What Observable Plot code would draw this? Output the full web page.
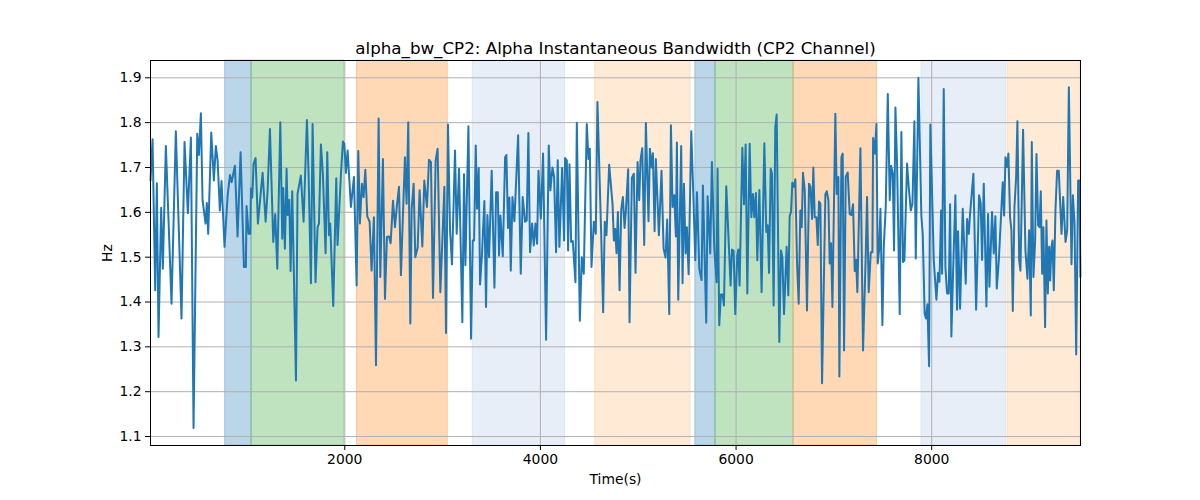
<!DOCTYPE html>
<html>
<head>
<meta charset="utf-8">
<script src="https://cdn.jsdelivr.net/npm/d3@7"></script>
<script src="https://cdn.jsdelivr.net/npm/@observablehq/plot@0.6"></script>
<style>
  html, body { margin: 0; padding: 0; background: #fff; }
  #chart { width: 1200px; height: 500px; }
</style>
</head>
<body>
<div id="chart"></div>
<script>
const titleText = "alpha_bw_CP2: Alpha Instantaneous Bandwidth (CP2 Channel)";
const xLabel = "Time(s)";
const yLabel = "Hz";
const xTicks = [2000, 4000, 6000, 8000];
const yTicks = [1.1, 1.2, 1.3, 1.4, 1.5, 1.6, 1.7, 1.8, 1.9];

const spanStart = [777, 1047, 2125, 3308, 4560, 5583, 5790, 6590, 7895, 8775];
const spanEnd   = [1047, 1995, 3053, 4253, 5535, 5790, 6588, 7441, 8761, 9521];
const spanKind  = ["blue", "green", "orange", "lightblue", "lightorange", "blue", "green", "orange", "lightblue", "lightorange"];

const times = [
14,35,62,79,96,123,140,171,229,273,331,362,396,427,454,492,509,529,546,577,590,604,635,662,682,700,723,740,771,802,826,843,877,904,935,969,989,996,1017,1034,1041,1054,1068,1088,1112,1160,1191,1211,1235,1269,1289,1310,1341,1361,1371,1388,1405,1416,1433,1446,1463,1501,
1517,1551,1579,1613,1630,1654,1671,1701,1722,1736,1756,1776,1804,1821,1838,1851,1882,1913,1926,1961,1981,1995,2012,2029,2063,2094,2121,2138,2155,2175,2192,2210,2230,2254,2274,2298,2319,2346,2363,2390,2411,2431,2452,2469,2493,2513,2533,2554,2574,2595,2615,2632,2649,2670,2684,2704,2721,2745,2765,2793,2813,2840,2861,2881,2902,2929,2949,2977,2997,3018,3035,3055,3076,3096,3117,
3127,3144,3168,3202,3219,3233,3264,3291,3308,3322,3339,3352,3369,3383,3403,3427,3444,3458,3475,3502,3530,3547,3564,3577,3591,3615,3639,3652,3669,3683,3697,3714,3734,3772,3799,3819,3843,3860,3877,3894,3915,3932,3949,3966,3980,4004,4027,4058,4085,4102,4123,4140,4160,4177,4194,4222,4242,4252,4270,4283,4297,4314,4331,4358,4372,4403,4423,4443,4474,4491,4505,4522,4546,4566,4583,4621,4641,4658,4675,4703,
4737,4751,4764,4778,4792,4809,4826,4843,4860,4873,4897,4911,4935,4955,4972,4993,5010,5023,5041,5061,5078,5105,5119,5136,5150,5167,5180,5211,5238,5259,5279,5296,5317,5334,5351,5368,5385,5395,5409,5439,5453,5467,5484,5497,5515,5542,5562,5583,5600,5624,5647,5661,5695,5709,5736,5753,5777,5801,5811,5828,5845,5862,5876,5900,5944,5958,5975,5992,6012,6023,6036,6064,6081,6098,6115,6139,6156,6173,6186,6203,6217,6238,6261,6289,
6309,6323,6337,6354,6367,6384,6401,6415,6442,6459,6473,6490,6517,6534,6548,6562,6575,6592,6606,6623,6640,6657,6671,6684,6702,6725,6746,6760,6777,6790,6804,6821,6835,6848,6862,6879,6913,6927,6944,6957,6971,6985,7015,7029,7046,7056,7077,7090,7104,7121,7141,7162,7179,7196,7213,7227,7240,7271,7298,7326,7339,7356,7377,7394,7401,7418,7435,7448,7462,7476,7496,7510,7530,7551,7571,7585,7602,7615,7629,7646,7673,7690,7707,7721,7748,7765,7786,7803,7823,7837,7864,
7894,7908,7928,7942,7956,7973,7986,8021,8048,8065,8079,8096,8106,8123,8140,8157,8174,8188,8201,8218,8242,8259,8269,8290,8317,8348,8362,8379,8392,8426,8454,8484,8501,8515,8532,8559,8576,8590,8617,8634,8651,8665,8686,8726,8740,8754,8771,8784,8801,8815,8829,8846,8863,8876,8894,8907,8934,8958,8979,8996,9013,9023,9040,9057,9071,9088,9102,9115,9129,9142,9159,9173,9187,9200,9211,9224,9235,9248,9265,9282,9299,9327,9344,9368,9385,9402,9429,9443,9460,9477,9497,9511,9520
];

const values = [
1.671,1.763,1.426,1.665,1.322,1.61,1.474,1.748,1.396,1.781,1.363,1.757,1.598,1.767,1.119,1.775,1.728,1.821,1.627,1.575,1.621,1.552,1.778,1.671,1.748,1.716,1.604,1.67,1.523,1.636,1.683,1.667,1.704,1.546,1.734,1.478,1.478,1.614,1.552,1.552,1.653,1.633,1.708,1.721,1.575,1.688,1.579,1.647,1.786,1.534,1.596,1.474,1.801,1.541,1.654,1.519,1.697,1.594,1.628,1.469,1.647,1.225,
1.641,1.682,1.579,1.806,1.686,1.442,1.797,1.444,1.567,1.575,1.751,1.686,1.509,1.734,1.549,1.575,1.391,1.676,1.527,1.686,1.758,1.753,1.688,1.738,1.612,1.679,1.437,1.737,1.575,1.664,1.634,1.695,1.591,1.579,1.47,1.589,1.259,1.809,1.456,1.719,1.407,1.545,1.546,1.531,1.626,1.567,1.615,1.657,1.46,1.596,1.723,1.619,1.801,1.352,1.608,1.664,1.5,1.521,1.649,1.524,1.671,1.612,1.717,1.712,1.409,1.716,1.742,1.422,1.534,1.657,1.331,1.796,1.56,1.484,1.657,
1.738,1.552,1.697,1.355,1.685,1.482,1.792,1.318,1.537,1.537,1.749,1.608,1.699,1.439,1.508,1.625,1.389,1.594,1.5,1.693,1.432,1.645,1.645,1.504,1.593,1.502,1.723,1.728,1.565,1.633,1.47,1.634,1.58,1.772,1.463,1.634,1.579,1.582,1.777,1.511,1.575,1.526,1.575,1.53,1.693,1.586,1.731,1.316,1.749,1.649,1.7,1.679,1.511,1.716,1.523,1.699,1.537,1.721,1.716,1.515,1.707,1.534,1.536,1.444,1.8,1.358,1.5,1.463,1.797,1.719,1.742,1.478,1.579,1.552,1.846,1.552,1.377,1.579,1.549,1.706,
1.619,1.537,1.563,1.509,1.601,1.426,1.606,1.634,1.565,1.601,1.696,1.355,1.677,1.686,1.465,1.712,1.627,1.716,1.743,1.527,1.799,1.58,1.742,1.7,1.732,1.558,1.719,1.549,1.693,1.519,1.499,1.584,1.373,1.794,1.612,1.638,1.546,1.756,1.405,1.748,1.442,1.664,1.508,1.567,1.462,1.781,1.647,1.493,1.645,1.474,1.449,1.66,1.354,1.636,1.508,1.712,1.523,1.444,1.697,1.348,1.417,1.417,1.392,1.658,1.437,1.517,1.514,1.373,1.504,1.517,1.437,1.744,1.618,1.751,1.419,1.753,1.589,1.641,1.589,1.643,1.493,1.65,1.422,1.754,
1.556,1.571,1.465,1.697,1.686,1.392,1.79,1.818,1.311,1.515,1.5,1.373,1.523,1.415,1.592,1.601,1.666,1.657,1.674,1.489,1.396,1.604,1.567,1.688,1.649,1.381,1.664,1.657,1.585,1.7,1.589,1.589,1.527,1.624,1.619,1.219,1.64,1.647,1.627,1.486,1.531,1.389,1.82,1.641,1.679,1.234,1.723,1.731,1.292,1.679,1.689,1.596,1.594,1.618,1.469,1.494,1.422,1.743,1.292,1.508,1.634,1.422,1.511,1.511,1.766,1.731,1.797,1.486,1.515,1.608,1.348,1.523,1.612,1.864,1.627,1.704,1.686,1.515,1.834,1.708,1.373,1.779,1.489,1.493,1.709,1.657,1.604,1.619,1.803,1.497,1.9,
1.593,1.552,1.374,1.363,1.395,1.257,1.796,1.493,1.405,1.465,1.445,1.604,1.463,1.875,1.478,1.419,1.419,1.618,1.323,1.463,1.638,1.383,1.558,1.385,1.608,1.441,1.585,1.552,1.596,1.686,1.383,1.638,1.619,1.494,1.664,1.39,1.596,1.434,1.601,1.508,1.591,1.43,1.493,1.667,1.593,1.723,1.701,1.731,1.589,1.56,1.38,1.612,1.679,1.803,1.493,1.47,1.784,1.515,1.452,1.56,1.37,1.757,1.456,1.534,1.73,1.571,1.567,1.647,1.463,1.567,1.344,1.582,1.419,1.523,1.448,1.523,1.537,1.426,1.604,1.693,1.693,1.552,1.634,1.534,1.56,1.879,1.484,1.638,1.575,1.283,1.671,1.671,1.456
];

const series = times.map((t, i) => ({t, v: values[i]}));
const spans = spanStart.map((s, i) => ({x1: s, x2: spanEnd[i], kind: spanKind[i]}));
const kindColor = {
  blue: "#1f77b4", green: "#2ca02c", orange: "#ff7f0e",
  lightblue: "#aec7e8", lightorange: "#ffbb78"
};

const chart = Plot.plot({
  width: 1200,
  height: 500,
  marginLeft: 150,
  marginRight: 120,
  marginTop: 60,
  marginBottom: 55,
  style: {fontFamily: "'DejaVu Sans', sans-serif", fontSize: "13.9px", color: "black", background: "white"},
  x: {domain: [14, 9521]},
  y: {domain: [1.080, 1.9386]},
  marks: [
    Plot.rect(spans, {x1: "x1", x2: "x2", fill: d => kindColor[d.kind], fillOpacity: 0.3, stroke: d => kindColor[d.kind], strokeOpacity: 0.3, strokeWidth: 1}),
    Plot.gridX(xTicks, {stroke: "#b0b0b0", strokeOpacity: 1, strokeWidth: 1}),
    Plot.gridY(yTicks, {stroke: "#b0b0b0", strokeOpacity: 1, strokeWidth: 1}),
    Plot.line(series, {x: "t", y: "v", stroke: "#1f77b4", strokeWidth: 2}),
    Plot.frame({stroke: "black", strokeWidth: 1}),
    Plot.axisX({ticks: xTicks, tickSize: 5, tickPadding: 4, tickFormat: d => String(d), label: xLabel, labelAnchor: "center", labelArrow: "none", labelOffset: 38}),
    Plot.axisY({ticks: yTicks, tickSize: 5, tickPadding: 4, tickFormat: d => d.toFixed(1), label: yLabel, labelAnchor: "center", labelArrow: "none", labelOffset: 48}),
    Plot.text([titleText], {frameAnchor: "top", text: d => d, dy: -7, lineAnchor: "bottom", fontSize: 16.7, fill: "black"})
  ]
});
document.getElementById("chart").appendChild(chart);
</script>
</body>
</html>
